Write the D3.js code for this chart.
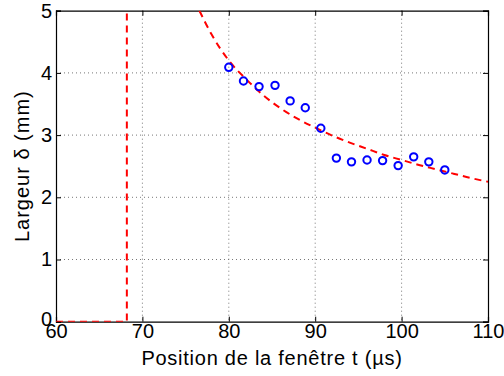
<!DOCTYPE html>
<html><head><meta charset="utf-8">
<script src="https://cdn.jsdelivr.net/npm/d3@7"></script>
<style>body{margin:0;background:#fff}svg{display:block}text{font-family:"Liberation Sans",Arial,sans-serif;fill:#000}</style>
</head><body><svg id="c" width="504" height="376"></svg>
<script>
const xTicks = [60, 70, 80, 90, 100, 110];
const yTicks = [0, 1, 2, 3, 4, 5];
const measT = [80.0, 81.7, 83.5, 85.35, 87.1, 88.85, 90.65, 92.45, 94.2, 96.0, 97.8, 99.6, 101.4, 103.15, 105.0];
const measD = [4.09, 3.87, 3.78, 3.80, 3.55, 3.44, 3.11, 2.63, 2.57, 2.60, 2.59, 2.51, 2.65, 2.57, 2.44];
const fitT = [76.6, 78, 80, 82, 84, 86, 88, 90, 92, 94, 96, 98, 100, 102, 104, 106, 108, 110];
const fitD = [5.0, 4.62, 4.2, 3.9, 3.64, 3.43, 3.26, 3.12, 2.99, 2.88, 2.78, 2.68, 2.6, 2.52, 2.45, 2.38, 2.31, 2.25];
const stepT = [60, 68.2, 68.2];
const stepD = [0, 0, 5];

const L = 56, R = 488, T = 10.7, B = 321.7;
const FS = 20;
const svg = d3.select("#c");
const x = d3.scaleLinear().domain([60, 110]).range([L, R]);
const y = d3.scaleLinear().domain([0, 5]).range([B, T]);

// grid
const g = svg.append("g");
g.selectAll(".gx").data(xTicks.slice(1, -1)).enter().append("line")
  .attr("x1", d => x(d)).attr("x2", d => x(d)).attr("y1", T).attr("y2", B)
  .attr("stroke", "#777").attr("stroke-width", 1).attr("stroke-dasharray", "1,3");
g.selectAll(".gy").data(yTicks.slice(1, -1)).enter().append("line")
  .attr("y1", d => y(d)).attr("y2", d => y(d)).attr("x1", L).attr("x2", R)
  .attr("stroke", "#777").attr("stroke-width", 1).attr("stroke-dasharray", "1,3");

// axes with inward ticks
const tl = 5;
const fmt = d3.format("d");
const axB = svg.append("g").attr("transform", `translate(0,${B})`)
  .call(d3.axisBottom(x).tickValues(xTicks).tickSize(-tl).tickPadding(2).tickFormat(fmt));
const axT = svg.append("g").attr("transform", `translate(0,${T})`)
  .call(d3.axisTop(x).tickValues(xTicks).tickSize(-tl).tickFormat(""));
const axLft = svg.append("g").attr("transform", `translate(${L},0)`)
  .call(d3.axisLeft(y).tickValues(yTicks).tickSize(-tl).tickPadding(4).tickFormat(fmt));
const axRgt = svg.append("g").attr("transform", `translate(${R},0)`)
  .call(d3.axisRight(y).tickValues(yTicks).tickSize(-tl).tickFormat(""));
[axB, axT, axLft, axRgt].forEach(a => {
  a.attr("font-size", FS).attr("font-family", '"Liberation Sans",Arial,sans-serif');
  a.select(".domain").attr("stroke", "#000").attr("stroke-width", 1.2);
  a.selectAll(".tick line").attr("stroke", "#000");
  a.selectAll("text").attr("fill", "#000");
});
axLft.selectAll(".tick").filter(d => d === 0).select("text").attr("dy", "0.2em");

// clip
svg.append("clipPath").attr("id", "clip").append("rect")
  .attr("x", L).attr("y", T).attr("width", R - L).attr("height", B - T);

const line = d3.line().x(d => x(d[0])).y(d => y(d[1]));
const plot = svg.append("g").attr("clip-path", "url(#clip)");
plot.append("path").datum(stepT.map((t, i) => [t, stepD[i]]))
  .attr("d", line).attr("fill", "none").attr("stroke", "#ff0000")
  .attr("stroke-width", 2).attr("stroke-dasharray", "7,5");
plot.append("path").datum(fitT.map((t, i) => [t, fitD[i]]))
  .attr("d", line.curve(d3.curveMonotoneX)).attr("fill", "none").attr("stroke", "#ff0000")
  .attr("stroke-width", 2).attr("stroke-dasharray", "7,5");

svg.append("g").selectAll("circle").data(measT.map((t, i) => [t, measD[i]])).enter()
  .append("circle").attr("cx", d => x(d[0])).attr("cy", d => y(d[1])).attr("r", 3.7)
  .attr("fill", "none").attr("stroke", "#0000ff").attr("stroke-width", 2);

svg.append("text").attr("x", (L + R) / 2).attr("y", 365).attr("text-anchor", "middle")
  .attr("font-size", FS).attr("letter-spacing", 0.75).text("Position de la fenêtre t (µs)");
svg.append("text").attr("transform", `translate(29,${(T + B) / 2}) rotate(-90)`)
  .attr("text-anchor", "middle").attr("font-size", FS).attr("letter-spacing", 1).text("Largeur δ (mm)");
</script></body></html>
